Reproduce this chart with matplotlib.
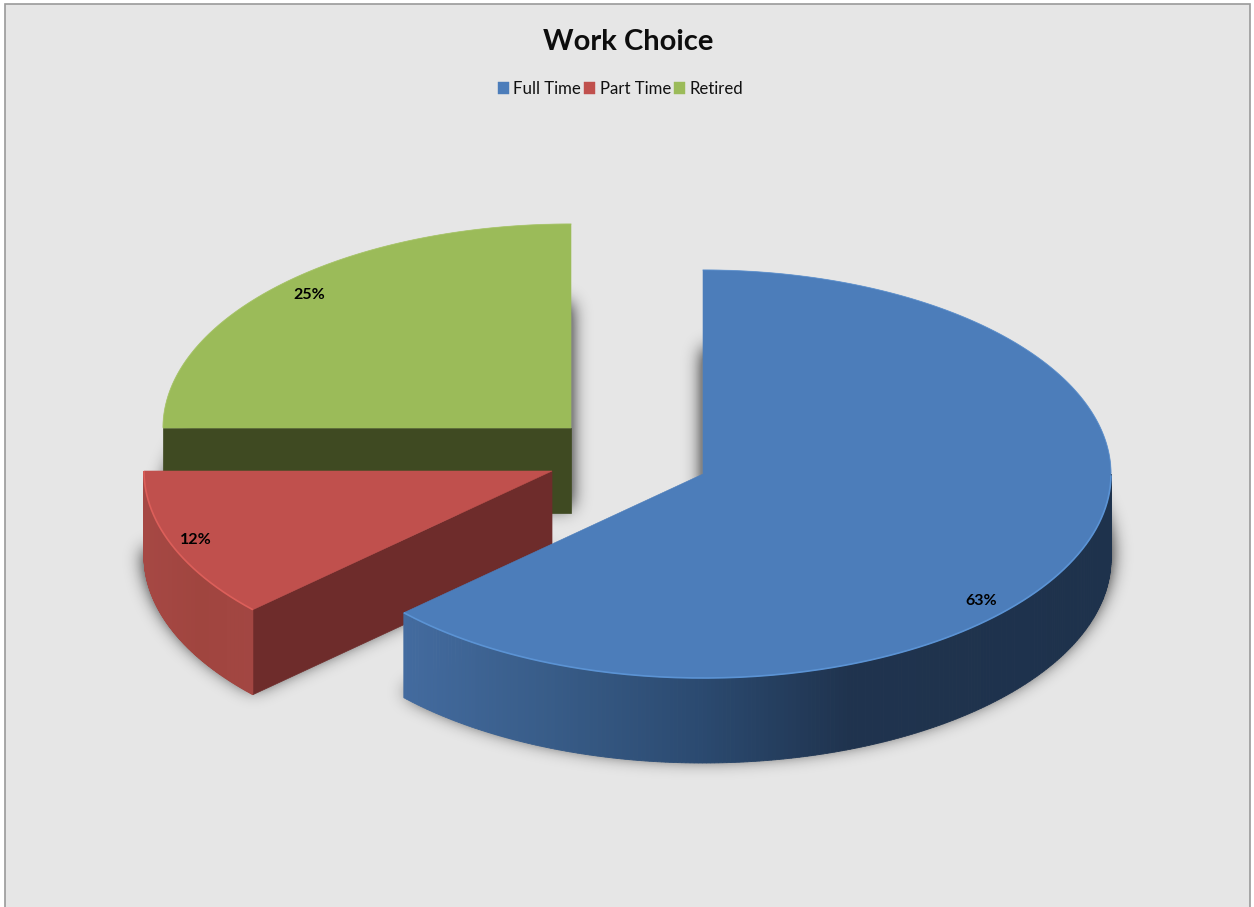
import numpy as np
import matplotlib
matplotlib.use('Agg')
import matplotlib.pyplot as plt
from matplotlib.patches import Polygon, Rectangle, Patch
from matplotlib.path import Path
from matplotlib.colors import to_rgb

# data
title = 'Work Choice'
categories = ['Full Time', 'Part Time', 'Retired']
shares = [63.1, 11.9, 25.0]

# look of the slices, same order as categories
top_colors = ['#4c7dba', '#c0504d', '#9bbb59']
rim_colors = ['#5b93d4', '#dc5f5a', '#a8c668']
cut_colors = ['#1e324c', '#6e2c2b', '#3f4a22']
wall_stops = [
    [(403, '#436b9f'), (550, '#385c88'), (700, '#2b4a70'), (850, '#1f334e'), (1111, '#1e324c')],
    [(144, '#a64844'), (200, '#a0453f'), (251, '#a34642')],
    [(163, '#3f4a22'), (571, '#3f4a22')],
]
# each slice is pulled out of the pie, so each has its own centre (pixels)
centers = [(703, 474), (552, 471), (571, 428)]
label_pos = [(981, 601), (196, 540), (309, 295)]
RX, RY, DEPTH = 408, 204, 85

W, H = 1254, 907
plt.rcParams['font.family'] = ['Lato', 'DejaVu Sans']

fig = plt.figure(figsize=(W / 100, H / 100), dpi=100, facecolor='white')
ax = fig.add_axes([0, 0, 1, 1])
ax.axis('off')


def rim(c, t, drop=0.0):
    # t in degrees, clockwise from 12 o'clock
    t = np.radians(t)
    return np.column_stack([c[0] + RX * np.sin(t), c[1] - RY * np.cos(t) + drop])


def blur(a, sigma):
    r = int(3 * sigma)
    k = np.exp(-np.arange(-r, r + 1) ** 2 / (2.0 * sigma ** 2))
    k = k / k.sum()
    a = np.apply_along_axis(lambda v: np.convolve(v, k, mode='same'), 0, a)
    a = np.apply_along_axis(lambda v: np.convolve(v, k, mode='same'), 1, a)
    return a


def wall_color(stops, x):
    xs = [s[0] for s in stops]
    rgb = np.array([to_rgb(s[1]) for s in stops])
    return [np.interp(x, xs, rgb[:, i]) for i in range(3)]


ax.add_patch(Rectangle((5, 4), 1245, 930, fc='#e6e6e6', ec='#9a9a9a', lw=1.2, zorder=0))

# angles of the slices from the values
edges = np.concatenate([[0], np.cumsum(shares)]) * 360.0 / sum(shares)

# soft shadow: the blurred floor of every slice, a little raised
yy, xx = np.mgrid[0:H, 0:W]
grid = np.column_stack([xx.ravel() + 0.5, yy.ravel() + 0.5])
floor = np.zeros((H, W))
for i in range(len(shares)):
    arc = rim(centers[i], np.linspace(edges[i], edges[i + 1], 120), drop=DEPTH - 6)
    apex = [centers[i][0], centers[i][1] + DEPTH - 6]
    inside = Path(np.vstack([[apex], arc, [apex]])).contains_points(grid).reshape(H, W)
    floor = np.maximum(floor, inside.astype(float))
glow = np.clip(blur(floor, 9) * 2.4, 0, 1) * 0.42
shadow = np.zeros((H, W, 4))
shadow[..., 3] = glow
ax.imshow(shadow, extent=(0, W, H, 0), aspect='auto', zorder=1, interpolation='bilinear')

# back slices first
for i in [2, 1, 0]:
    a, b = edges[i], edges[i + 1]
    c = centers[i]
    z = 2 + (2 - i)

    # flat cut faces that look towards the viewer
    for t, normal in ((a, a - 90), (b, b + 90)):
        if -np.cos(np.radians(normal)) > 1e-6:
            p = rim(c, [t])[0]
            ax.add_patch(Polygon([c, p, (p[0], p[1] + DEPTH), (c[0], c[1] + DEPTH)],
                                 fc=cut_colors[i], ec=cut_colors[i], lw=0.5, zorder=z))

    # curved outer wall, only the front half of the ellipse shows
    lo, hi = max(a, 90), min(b, 270)
    if hi > lo:
        ts = np.linspace(lo, hi, 240)
        up = rim(c, ts)
        dn = rim(c, ts, drop=DEPTH)
        for j in range(len(ts) - 1):
            col = wall_color(wall_stops[i], 0.5 * (up[j, 0] + up[j + 1, 0]))
            ax.add_patch(Polygon([up[j], up[j + 1], dn[j + 1], dn[j]], fc=col, ec=col, lw=0.6, zorder=z))

    # top of the slice
    ts = np.linspace(a, b, 300)
    arc = rim(c, ts)
    ax.add_patch(Polygon(np.vstack([[c], arc]), fc=top_colors[i], ec=top_colors[i], lw=0.4, zorder=z))
    # light bevel along the front edge, very faint at the back
    front = (ts >= 90) & (ts <= 270)
    ax.plot(arc[front, 0], arc[front, 1], color=rim_colors[i], lw=1.2, zorder=z, solid_capstyle='butt')
    ax.plot(arc[~front, 0], arc[~front, 1], color=rim_colors[i], lw=0.8, alpha=0.5, zorder=z)

    ax.text(label_pos[i][0], label_pos[i][1], '%.0f%%' % shares[i], fontsize=11.5, fontweight='bold',
            color='black', ha='center', va='center', zorder=10)

ax.text(628, 42, title, fontsize=21, fontweight='bold', color='#0d0d0d', ha='center', va='center', zorder=10)

handles = [Patch(fc=top_colors[i], ec=top_colors[i], lw=0.3, label=categories[i]) for i in range(3)]
ax.legend(handles=handles, ncol=3, loc='center', bbox_to_anchor=(620.5, 89), bbox_transform=ax.transData,
          frameon=False, fontsize=12.1, handlelength=0.65, handleheight=0.65, handletextpad=0.25,
          columnspacing=0.2, labelcolor='#111111', borderpad=0)

ax.set_xlim(0, W)
ax.set_ylim(H, 0)
fig.savefig('out.png', dpi=100, facecolor='white')
